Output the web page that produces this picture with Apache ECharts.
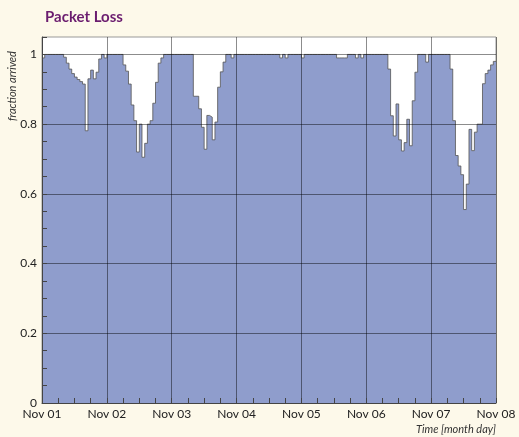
<!DOCTYPE html>
<html>
<head>
<meta charset="utf-8">
<title>Packet Loss</title>
<script src="https://cdn.jsdelivr.net/npm/echarts@6/dist/echarts.min.js"></script>
<style>
  html, body { margin: 0; padding: 0; background: #fdf9ea; }
  #main { width: 519px; height: 437px; }
</style>
</head>
<body>
<div id="main"></div>
<script>
  // tick labels on the time axis (one per day)
  var dayLabels = ['Nov 01', 'Nov 02', 'Nov 03', 'Nov 04', 'Nov 05', 'Nov 06', 'Nov 07', 'Nov 08'];

  // hourly fraction of packets arrived, one array per day (hour 0..23)
  var nov01 = [0.99, 1, 1, 1, 1, 1, 1, 1, 0.992, 0.975, 0.958, 0.945, 0.935, 0.928, 0.922, 0.915, 0.781, 0.93, 0.955, 0.93, 0.949, 0.987, 1, 0.99];
  var nov02 = [1, 1, 1, 1, 1, 1, 0.97, 0.952, 0.915, 0.855, 0.81, 0.72, 0.80, 0.705, 0.745, 0.80, 0.81, 0.86, 0.92, 0.975, 0.99, 1, 1, 1];
  var nov03 = [1, 1, 1, 1, 1, 1, 1, 1, 0.88, 0.88, 0.844, 0.791, 0.728, 0.825, 0.82, 0.755, 0.806, 0.906, 0.95, 0.978, 1, 1, 0.99, 1];
  var nov04 = [1, 1, 1, 1, 1, 1, 1, 1, 1, 1, 1, 1, 1, 1, 1, 1, 0.99, 1, 0.99, 1, 1, 1, 1, 1];
  var nov05 = [0.99, 1, 1, 1, 1, 1, 1, 1, 1, 1, 1, 1, 1, 0.99, 0.99, 0.99, 0.99, 1, 1, 1, 0.99, 1, 0.99, 1];
  var nov06 = [1, 1, 1, 1, 1, 1, 1, 1, 0.958, 0.824, 0.766, 0.858, 0.755, 0.723, 0.747, 0.814, 0.738, 0.867, 0.949, 1, 1, 1, 0.978, 1];
  var nov07 = [1, 1, 1, 1, 1, 1, 1, 0.958, 0.81, 0.71, 0.68, 0.655, 0.555, 0.628, 0.785, 0.724, 0.777, 0.80, 0.80, 0.916, 0.945, 0.955, 0.97, 0.98];

  var days = [nov01, nov02, nov03, nov04, nov05, nov06, nov07];

  // x = hours since Nov 01 00:00
  var points = [];
  for (var d = 0; d < days.length; d++) {
    for (var h = 0; h < days[d].length; h++) {
      points.push([d * 24 + h, days[d][h]]);
    }
  }
  points.push([days.length * 24, nov07[nov07.length - 1]]);

  var gridColor = 'rgba(0,0,0,0.45)';
  var none = 'rgba(0,0,0,0)';

  var myChart = echarts.init(document.getElementById('main'));
  var option = {
    backgroundColor: '#fdf9ea',
    animation: false,
    title: {
      text: 'Packet Loss',
      left: 40,
      top: 5,
      textStyle: {
        fontFamily: 'Lato',
        fontWeight: 'bold',
        fontSize: 15,
        color: '#6b1d6f'
      }
    },
    grid: {
      left: 42,
      right: 23,
      top: 37,
      bottom: 34,
      show: true,
      backgroundColor: '#ffffff',
      borderColor: '#999',
      borderWidth: 1
    },
    xAxis: {
      type: 'value',
      min: 0,
      max: 168,
      interval: 6,
      z: 3,
      axisLine: { lineStyle: { color: '#444', width: 1 } },
      axisTick: { inside: true, length: 5, lineStyle: { color: '#444' } },
      axisLabel: {
        margin: 5,
        color: '#222',
        fontFamily: 'Lato',
        fontSize: 12,
        formatter: function (v) {
          if (v % 24 !== 0) return '';
          return dayLabels[v / 24];
        }
      },
      splitLine: {
        show: true,
        lineStyle: { color: [gridColor, none, none, none], width: 1 }
      }
    },
    yAxis: {
      type: 'value',
      min: 0,
      max: 1.05,
      interval: 0.05,
      z: 3,
      axisLine: { show: true, lineStyle: { color: '#444', width: 1 } },
      axisTick: { show: true, inside: true, length: 5, lineStyle: { color: '#444' } },
      axisLabel: {
        margin: 5,
        color: '#222',
        fontFamily: 'Lato',
        fontSize: 12,
        formatter: function (v) {
          var k = Math.round(v * 100);
          if (k % 20 !== 0 || k > 100) return '';
          return String(k / 100);
        }
      },
      splitLine: {
        show: true,
        lineStyle: { color: [gridColor, none, none, none], width: 1 }
      }
    },
    graphic: [
      {
        type: 'text',
        x: 12,
        y: 121,
        rotation: Math.PI / 2,
        style: {
          text: 'fraction arrived',
          font: 'italic 11px Lato',
          fill: '#333',
          align: 'left',
          verticalAlign: 'middle'
        }
      },
      {
        type: 'text',
        x: 496,
        y: 429,
        style: {
          text: 'Time [month day]',
          font: 'italic 11px Lato',
          fill: '#333',
          align: 'right',
          verticalAlign: 'middle'
        }
      }
    ],
    series: [{
      type: 'line',
      step: 'end',
      symbol: 'none',
      z: 2,
      lineStyle: { color: '#555', width: 1, opacity: 0.8 },
      areaStyle: { color: '#8f9dcc', opacity: 1 },
      data: points
    }]
  };

  myChart.setOption(option);
</script>
</body>
</html>
